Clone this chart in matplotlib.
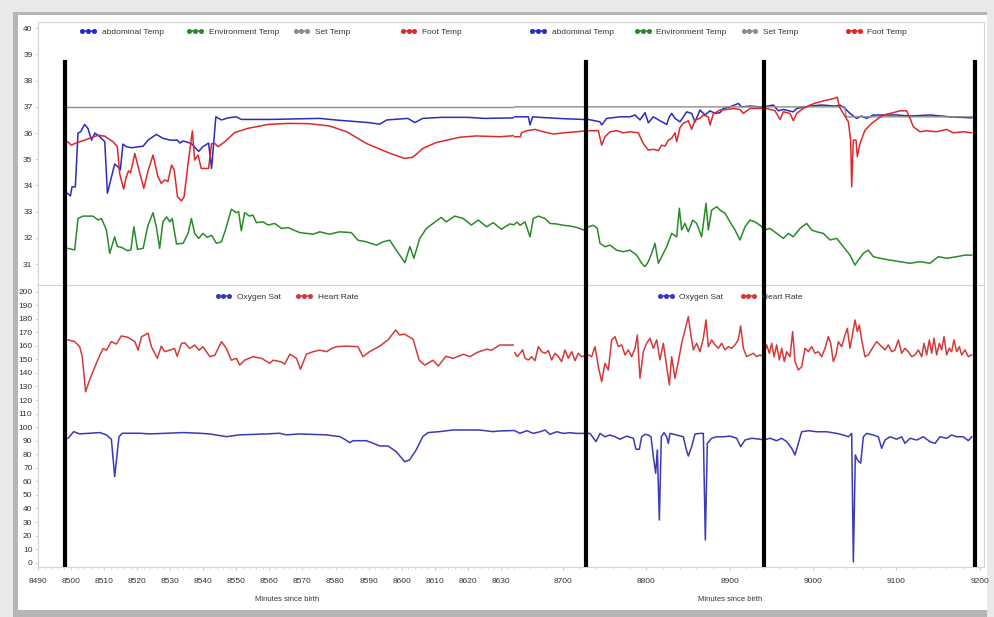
import numpy as np
import matplotlib
matplotlib.use("Agg")
import matplotlib.pyplot as plt
from matplotlib.lines import Line2D
from matplotlib.legend import Legend
from matplotlib.patches import Rectangle
from matplotlib.ticker import MultipleLocator

plt.rcParams["font.family"] = ["Liberation Sans", "DejaVu Sans"]

# ---------------- data: (minute, value) ----------------
# left recording, minutes 8490-8634
left_abd = np.array([
    (8498.9, 33.70), (8499.8, 33.60), (8500.3, 33.95), (8501.3, 33.95), (8502.1, 36.00),
    (8502.9, 36.05), (8504.1, 36.33), (8505.1, 36.18), (8506.2, 35.73), (8507.2, 36.00),
    (8508.7, 35.86), (8510.2, 35.67), (8511.0, 33.70), (8513.2, 34.82), (8514.2, 34.71),
    (8514.9, 34.59), (8515.7, 35.58), (8516.7, 35.48), (8518.3, 35.44), (8521.8, 35.50),
    (8523.3, 35.73), (8525.8, 35.95), (8527.8, 35.80), (8530.0, 35.73), (8532.2, 35.73),
    (8532.9, 35.62), (8533.9, 35.70), (8536.4, 35.60), (8538.6, 35.30), (8539.9, 35.48),
    (8541.6, 35.62), (8542.5, 34.65), (8543.0, 35.40), (8543.8, 36.62), (8545.5, 36.50),
    (8547.5, 36.58), (8550.0, 36.62), (8551.5, 36.52), (8560.0, 36.52), (8575.2, 36.56),
    (8580.0, 36.50), (8585.0, 36.45), (8590.0, 36.40), (8593.4, 36.34), (8595.5, 36.50),
    (8601.9, 36.56), (8604.0, 36.40), (8606.4, 36.56), (8612.0, 36.60), (8620.0, 36.60),
    (8625.0, 36.56), (8634.0, 36.58),
])
left_foot = np.array([
    (8498.9, 35.67), (8500.1, 35.54), (8501.5, 35.62), (8504.1, 35.73), (8506.2, 35.83),
    (8508.2, 35.92), (8510.2, 35.88), (8512.7, 35.67), (8514.0, 35.48), (8514.7, 34.46),
    (8515.9, 33.86), (8516.7, 34.33), (8517.4, 34.56), (8518.0, 34.48), (8519.3, 35.22),
    (8520.3, 34.71), (8522.0, 33.89), (8523.3, 34.56), (8524.8, 35.16), (8526.3, 34.33),
    (8527.3, 34.08), (8528.3, 34.21), (8529.3, 34.15), (8530.4, 34.78), (8531.2, 34.59),
    (8532.2, 33.57), (8533.4, 33.41), (8534.2, 33.57), (8535.4, 34.84), (8536.7, 36.08),
    (8537.4, 34.97), (8538.4, 35.16), (8539.4, 34.65), (8541.6, 34.65), (8542.5, 35.60),
    (8543.5, 35.60), (8544.5, 35.48), (8546.5, 35.67), (8549.5, 36.02), (8553.5, 36.18),
    (8559.6, 36.33), (8565.6, 36.37), (8572.0, 36.36), (8578.2, 36.27), (8583.4, 36.05),
    (8589.4, 35.60), (8596.4, 35.23), (8600.9, 35.03), (8603.4, 35.08), (8606.5, 35.42),
    (8610.5, 35.64), (8617.6, 35.84), (8622.6, 35.89), (8629.7, 35.86), (8634.0, 35.90),
])
left_env = np.array([
    (8498.9, 31.60), (8501.1, 31.54), (8502.1, 32.74), (8503.6, 32.83), (8506.6, 32.83),
    (8508.2, 32.68), (8509.2, 32.74), (8510.7, 32.30), (8511.7, 31.41), (8513.2, 32.04),
    (8514.0, 31.67), (8515.2, 31.64), (8517.1, 31.51), (8518.1, 31.54), (8519.0, 32.42),
    (8520.1, 31.56), (8521.8, 31.60), (8523.3, 32.49), (8524.8, 32.96), (8525.8, 32.42),
    (8526.8, 31.60), (8527.8, 32.61), (8528.9, 32.80), (8529.9, 32.61), (8530.6, 32.74),
    (8531.9, 31.77), (8533.9, 31.79), (8535.4, 32.17), (8536.4, 32.74), (8537.4, 32.17),
    (8538.6, 31.98), (8539.9, 32.17), (8541.2, 32.02), (8542.5, 32.10), (8544.0, 31.79),
    (8545.5, 31.85), (8546.7, 32.30), (8548.5, 33.09), (8550.0, 32.96), (8550.7, 33.00),
    (8551.5, 32.27), (8552.5, 32.96), (8554.0, 32.83), (8555.0, 32.87), (8556.1, 32.58),
    (8558.1, 32.61), (8559.6, 32.49), (8561.6, 32.55), (8563.7, 32.36), (8565.7, 32.39),
    (8569.2, 32.20), (8573.2, 32.14), (8575.2, 32.23), (8578.2, 32.14), (8581.2, 32.23),
    (8584.8, 32.20), (8586.8, 31.91), (8589.3, 31.85), (8592.4, 31.72), (8594.4, 31.85),
    (8596.4, 31.91), (8598.4, 31.53), (8601.0, 31.05), (8602.5, 31.67), (8603.7, 31.22),
    (8605.5, 31.98), (8607.5, 32.36), (8609.5, 32.55), (8612.0, 32.78), (8613.5, 32.61),
    (8616.1, 32.83), (8618.6, 32.74), (8621.1, 32.49), (8623.2, 32.68), (8625.7, 32.42),
    (8627.7, 32.58), (8630.2, 32.33), (8632.7, 32.53), (8634.0, 32.50),
])
left_set = np.array([(8498.5, 37.0), (8634.0, 37.0)])
left_hr = np.array([
    (8499.1, 164.4), (8501.1, 163.1), (8502.6, 159.4), (8503.4, 152.0), (8504.4, 126.1),
    (8505.6, 134.7), (8507.2, 144.5), (8508.7, 153.1), (8509.7, 158.0), (8510.7, 156.8),
    (8512.2, 163.1), (8513.7, 161.3), (8515.2, 167.3), (8517.2, 166.3), (8519.3, 163.1),
    (8520.3, 156.8), (8521.3, 166.7), (8523.3, 169.3), (8524.3, 159.4), (8526.1, 150.8),
    (8527.3, 159.8), (8528.3, 155.7), (8529.8, 156.8), (8531.3, 158.0), (8532.1, 152.3),
    (8533.4, 161.8), (8534.4, 162.3), (8535.9, 158.0), (8537.4, 160.6), (8538.7, 156.8),
    (8539.9, 159.4), (8542.0, 152.0), (8543.5, 153.1), (8545.5, 163.1), (8547.0, 158.0),
    (8548.5, 149.4), (8550.0, 150.8), (8551.0, 145.8), (8552.5, 149.4), (8555.0, 152.0),
    (8557.6, 150.8), (8560.1, 147.1), (8561.1, 149.4), (8563.6, 148.2), (8564.6, 146.5),
    (8566.2, 153.8), (8568.2, 150.8), (8569.4, 142.7), (8571.2, 153.8), (8573.2, 155.7),
    (8575.2, 156.8), (8577.3, 155.7), (8578.8, 158.0), (8580.3, 159.4), (8583.3, 159.8),
    (8586.8, 159.4), (8588.3, 152.0), (8590.3, 155.7), (8593.4, 159.8), (8595.9, 164.4),
    (8598.2, 171.7), (8599.4, 168.0), (8600.9, 168.7), (8603.5, 164.8), (8605.3, 149.4),
    (8607.0, 145.8), (8609.5, 149.4), (8611.1, 145.1), (8613.4, 152.3), (8615.6, 150.8),
    (8618.7, 153.8), (8620.7, 152.0), (8622.7, 155.0), (8625.7, 157.5), (8627.2, 156.8),
    (8629.7, 160.6), (8633.8, 160.6),
])
left_o2 = np.array([
    (8499.1, 91.8), (8500.8, 96.7), (8502.6, 95.0), (8505.6, 95.5), (8508.7, 96.0),
    (8510.7, 94.3), (8512.2, 91.0), (8513.2, 63.5), (8514.5, 93.0), (8515.5, 95.5),
    (8518.8, 95.5), (8520.8, 95.5), (8523.8, 95.0), (8528.9, 95.5), (8533.9, 96.0),
    (8538.9, 95.5), (8541.9, 95.0), (8547.0, 93.0), (8551.0, 94.3), (8559.1, 95.0),
    (8563.1, 95.5), (8565.1, 94.3), (8569.2, 95.0), (8577.2, 94.3), (8581.3, 93.0),
    (8582.8, 91.0), (8584.3, 88.6), (8585.3, 90.0), (8589.3, 90.0), (8591.4, 88.1),
    (8593.4, 86.1), (8595.9, 86.1), (8598.4, 81.9), (8600.9, 74.5), (8602.4, 75.8),
    (8604.4, 83.2), (8606.4, 93.0), (8608.0, 96.0), (8611.5, 96.7), (8615.5, 97.9),
    (8619.6, 97.9), (8623.6, 97.9), (8627.6, 96.7), (8629.7, 97.2), (8634.0, 97.5),
])

# right recording, minutes 8641-9205
right_abd = np.array([
    (8641.0, 36.62), (8655.0, 36.62), (8658.4, 36.62), (8660.4, 36.31), (8663.6, 36.62),
    (8672.4, 36.60), (8700.0, 36.55), (8724.4, 36.52), (8730.4, 36.52), (8744.4, 36.43),
    (8746.4, 36.31), (8752.4, 36.56), (8768.4, 36.62), (8780.4, 36.62), (8786.4, 36.69),
    (8792.4, 36.50), (8798.4, 36.78), (8802.4, 36.39), (8808.4, 36.62), (8816.4, 36.47),
    (8824.4, 36.33), (8827.6, 36.62), (8830.4, 36.75), (8834.4, 36.56), (8840.4, 36.43),
    (8844.4, 36.62), (8848.4, 36.81), (8854.4, 36.75), (8858.4, 36.43), (8864.4, 36.88),
    (8870.4, 36.69), (8876.4, 36.85), (8882.4, 36.75), (8888.4, 36.78), (8892.4, 36.94),
    (8900.4, 37.00), (8910.4, 37.13), (8914.4, 37.00), (8924.4, 37.03), (8936.4, 37.00),
    (8940.4, 37.00), (8952.4, 37.07), (8958.4, 36.85), (8964.4, 36.90), (8976.4, 36.81),
    (8980.4, 36.94), (8996.4, 37.03), (9010.4, 37.07), (9026.4, 37.03), (9032.4, 37.07),
    (9038.4, 36.94), (9044.4, 36.75), (9052.4, 36.56), (9058.4, 36.65), (9064.4, 36.56),
    (9072.4, 36.69), (9084.4, 36.69), (9100.4, 36.69), (9116.4, 36.65), (9140.4, 36.69),
    (9164.4, 36.62), (9190.4, 36.58),
])
right_foot = np.array([
    (8641.0, 35.86), (8649.0, 35.86), (8650.0, 36.01), (8656.4, 36.09), (8666.4, 36.14),
    (8676.4, 36.05), (8688.4, 35.96), (8700.4, 36.01), (8716.4, 36.05), (8728.4, 36.09),
    (8742.4, 36.09), (8746.4, 35.54), (8750.4, 35.86), (8756.4, 36.05), (8764.4, 36.09),
    (8772.4, 36.01), (8780.4, 36.05), (8790.4, 36.01), (8796.4, 35.60), (8802.4, 35.35),
    (8808.4, 35.38), (8814.4, 35.33), (8818.4, 35.54), (8822.4, 35.50), (8826.4, 35.73),
    (8830.4, 35.80), (8834.4, 36.01), (8836.4, 35.67), (8840.4, 36.21), (8844.4, 36.37),
    (8850.4, 36.47), (8854.4, 36.14), (8858.4, 36.50), (8864.4, 36.56), (8868.4, 36.69),
    (8874.4, 36.62), (8876.4, 36.31), (8880.4, 36.73), (8888.4, 36.88), (8896.4, 36.90),
    (8904.4, 36.94), (8912.4, 36.90), (8916.4, 36.75), (8924.4, 36.94), (8936.4, 36.94),
    (8944.4, 36.94), (8954.4, 36.85), (8960.4, 36.52), (8964.4, 36.81), (8972.4, 36.75),
    (8976.4, 36.47), (8980.4, 36.75), (8988.4, 36.94), (8996.4, 37.07), (9004.4, 37.16),
    (9016.4, 37.26), (9026.4, 37.33), (9029.2, 37.37), (9031.6, 37.00), (9036.4, 36.75),
    (9042.4, 36.43), (9045.2, 35.73), (9046.4, 33.95), (9048.4, 35.73), (9051.6, 35.73),
    (9053.2, 35.10), (9056.4, 35.60), (9062.4, 36.11), (9070.4, 36.37), (9078.4, 36.56),
    (9084.4, 36.69), (9096.4, 36.78), (9104.4, 36.85), (9112.4, 36.85), (9116.4, 36.56),
    (9120.4, 36.24), (9128.4, 36.05), (9136.4, 36.09), (9148.4, 36.05), (9160.4, 36.14),
    (9168.4, 36.01), (9180.4, 36.05), (9190.4, 36.01),
])
right_env = np.array([
    (8641.0, 32.50), (8645.0, 32.60), (8648.4, 32.48), (8654.4, 32.61), (8660.4, 32.04),
    (8664.4, 32.74), (8670.4, 32.83), (8678.4, 32.74), (8684.4, 32.55), (8692.4, 32.53),
    (8700.4, 32.48), (8708.4, 32.45), (8716.4, 32.40), (8724.4, 32.30), (8730.4, 32.42),
    (8736.4, 32.48), (8741.2, 32.36), (8744.4, 31.79), (8750.4, 31.66), (8756.4, 31.72),
    (8764.4, 31.53), (8772.4, 31.47), (8780.4, 31.53), (8788.4, 31.34), (8794.4, 31.03),
    (8798.4, 30.90), (8802.4, 31.09), (8806.4, 31.41), (8810.4, 31.79), (8814.4, 31.03),
    (8818.4, 31.28), (8824.4, 31.66), (8830.4, 32.17), (8836.4, 32.04), (8839.6, 33.13),
    (8842.4, 32.30), (8846.4, 32.55), (8850.4, 32.23), (8855.6, 32.68), (8860.4, 32.55),
    (8866.4, 32.04), (8871.6, 33.32), (8874.4, 32.30), (8878.4, 33.06), (8884.4, 33.19),
    (8888.4, 33.06), (8894.4, 32.94), (8900.4, 32.61), (8906.4, 32.30), (8912.4, 31.92),
    (8918.4, 32.42), (8924.4, 32.68), (8930.4, 32.61), (8936.4, 32.48), (8942.4, 32.30),
    (8948.4, 32.36), (8956.4, 32.17), (8964.4, 31.98), (8970.4, 32.17), (8976.4, 32.04),
    (8984.4, 32.36), (8992.4, 32.55), (8998.4, 32.30), (9004.4, 32.23), (9012.4, 32.17),
    (9020.4, 31.92), (9028.4, 31.98), (9036.4, 31.66), (9044.4, 31.34), (9050.4, 30.96),
    (9054.4, 31.15), (9060.4, 31.41), (9066.4, 31.53), (9072.4, 31.28), (9080.4, 31.22),
    (9092.4, 31.15), (9104.4, 31.09), (9116.4, 31.03), (9128.4, 31.09), (9140.4, 31.03),
    (9150.4, 31.28), (9160.4, 31.22), (9172.4, 31.28), (9182.4, 31.34), (9190.4, 31.34),
])
right_set = np.array([(8641.0, 37.0), (9038.0, 37.0), (9040.0, 36.62), (9195.0, 36.62)])
right_hr = np.array([
    (8642.0, 155.0), (8645.0, 152.0), (8648.4, 154.5), (8651.6, 157.0), (8654.4, 150.8),
    (8658.4, 149.6), (8662.4, 152.0), (8666.4, 149.1), (8670.4, 159.4), (8674.4, 155.7),
    (8678.4, 154.5), (8682.4, 156.5), (8686.4, 149.6), (8690.4, 154.5), (8694.4, 152.0),
    (8698.4, 148.4), (8702.4, 157.0), (8706.4, 150.8), (8710.4, 155.7), (8714.4, 149.1),
    (8718.4, 154.5), (8722.4, 152.0), (8730.4, 153.3), (8734.4, 152.0), (8738.4, 159.4),
    (8742.4, 144.6), (8746.4, 133.6), (8750.4, 147.1), (8754.4, 142.2), (8758.4, 164.4),
    (8762.4, 166.8), (8766.4, 159.4), (8770.4, 160.7), (8774.4, 153.3), (8778.4, 157.0),
    (8782.4, 152.0), (8786.4, 158.2), (8789.2, 168.0), (8792.4, 136.1), (8796.4, 155.7),
    (8800.4, 161.9), (8804.4, 165.6), (8808.4, 158.2), (8812.4, 164.4), (8816.4, 149.6),
    (8820.4, 161.9), (8824.4, 144.6), (8827.6, 131.1), (8830.4, 152.0), (8834.4, 136.1),
    (8838.4, 148.4), (8842.4, 161.9), (8846.4, 171.7), (8850.4, 181.6), (8853.2, 169.3),
    (8856.4, 157.0), (8860.4, 161.9), (8864.4, 155.7), (8868.4, 165.6), (8871.6, 179.1),
    (8874.4, 159.4), (8878.4, 164.4), (8882.4, 160.7), (8886.4, 158.2), (8890.4, 161.9),
    (8894.4, 157.0), (8898.4, 159.4), (8902.4, 158.2), (8906.4, 160.7), (8910.4, 164.4),
    (8913.2, 174.7), (8916.4, 158.2), (8920.4, 152.0), (8924.4, 153.3), (8928.4, 154.5),
    (8932.4, 152.0), (8936.4, 153.3), (8940.4, 152.0), (8944.4, 160.7), (8947.6, 154.5),
    (8950.4, 161.9), (8953.2, 152.0), (8956.4, 160.7), (8959.6, 149.6), (8962.4, 158.2),
    (8965.6, 148.4), (8968.4, 155.7), (8972.4, 152.0), (8975.6, 170.5), (8978.4, 148.4),
    (8982.4, 142.2), (8986.4, 144.6), (8990.4, 158.2), (8994.4, 155.7), (8998.4, 159.4),
    (9002.4, 154.5), (9006.4, 155.7), (9010.4, 152.0), (9014.4, 158.2), (9018.4, 166.8),
    (9021.2, 161.9), (9024.4, 148.4), (9027.6, 153.3), (9030.4, 163.1), (9034.4, 159.4),
    (9038.4, 168.0), (9041.2, 172.9), (9044.4, 158.2), (9047.6, 169.3), (9050.4, 179.1),
    (9053.2, 170.5), (9055.6, 175.4), (9058.4, 164.4), (9062.4, 152.0), (9066.4, 153.3),
    (9072.4, 159.4), (9076.4, 163.1), (9082.4, 159.4), (9086.4, 157.0), (9090.4, 160.7),
    (9094.4, 155.7), (9098.4, 157.0), (9102.4, 164.4), (9106.4, 154.5), (9110.4, 158.2),
    (9114.4, 155.7), (9118.4, 152.0), (9122.4, 153.3), (9126.4, 157.0), (9130.4, 152.0),
    (9133.2, 161.9), (9136.4, 153.3), (9139.6, 164.4), (9142.4, 154.5), (9145.2, 165.6),
    (9148.4, 153.3), (9151.6, 161.9), (9154.4, 157.0), (9157.2, 166.8), (9160.4, 153.3),
    (9163.6, 158.2), (9166.4, 155.7), (9169.2, 164.4), (9172.4, 155.7), (9175.6, 159.4),
    (9178.4, 153.3), (9182.4, 157.0), (9186.4, 152.0), (9190.4, 153.3),
])
right_o2 = np.array([
    (8642.0, 97.4), (8648.4, 95.4), (8656.4, 97.4), (8664.4, 95.4), (8672.4, 96.6),
    (8678.4, 97.9), (8684.4, 94.7), (8692.4, 96.6), (8700.4, 95.4), (8708.4, 95.9),
    (8716.4, 95.4), (8724.4, 95.4), (8732.4, 95.4), (8739.6, 89.3), (8744.4, 95.4),
    (8750.4, 92.9), (8756.4, 94.2), (8762.4, 92.9), (8768.4, 91.1), (8776.4, 93.4),
    (8784.4, 91.8), (8787.6, 83.7), (8791.6, 83.7), (8794.4, 92.9), (8798.4, 94.7),
    (8802.4, 94.2), (8805.6, 92.9), (8808.4, 78.2), (8811.2, 66.0), (8813.2, 83.2),
    (8815.6, 31.5), (8818.0, 92.9), (8821.2, 95.9), (8824.4, 92.9), (8826.4, 88.0),
    (8828.4, 95.4), (8836.4, 94.2), (8844.4, 92.9), (8847.6, 84.4), (8850.4, 78.7),
    (8854.4, 85.6), (8858.4, 94.9), (8864.4, 95.4), (8868.4, 95.4), (8870.8, 16.7),
    (8873.2, 88.0), (8878.4, 91.8), (8884.4, 92.9), (8892.4, 92.9), (8900.4, 93.4),
    (8908.4, 91.8), (8913.2, 85.6), (8918.4, 90.5), (8926.4, 91.8), (8936.4, 91.1),
    (8940.4, 90.5), (8948.4, 91.8), (8956.4, 90.0), (8962.4, 91.8), (8968.4, 89.3),
    (8974.4, 84.4), (8978.4, 79.5), (8982.4, 88.0), (8986.4, 96.6), (8994.4, 97.4),
    (9004.4, 96.6), (9016.4, 96.6), (9028.4, 95.4), (9036.4, 94.2), (9042.4, 92.9),
    (9046.4, 95.4), (9048.4, 0.5), (9050.8, 79.5), (9053.2, 75.8), (9057.2, 73.4),
    (9060.4, 92.9), (9064.4, 95.4), (9072.4, 94.2), (9078.4, 92.9), (9082.4, 84.4),
    (9086.4, 90.5), (9092.4, 92.9), (9100.4, 91.1), (9106.4, 92.9), (9110.4, 88.0),
    (9116.4, 91.8), (9124.4, 90.5), (9132.4, 92.9), (9140.4, 89.3), (9146.4, 88.0),
    (9152.4, 92.9), (9160.4, 91.8), (9166.4, 94.2), (9172.4, 92.9), (9180.4, 92.9),
    (9186.4, 90.0), (9190.4, 92.9),
])

# black event markers (minutes)
left_events = [8498.1]
right_events = [8727.6, 8941.2, 9194.4]

left_xticks = list(range(8490, 8631, 10))
right_xticks = list(range(8700, 9201, 100))
temp_yticks = list(range(31, 41))
vital_yticks = list(range(0, 201, 10))

temp_labels = ["abdominal Temp", "Environment Temp", "Set Temp", "Foot Temp"]
vital_labels = ["Oxygen Sat", "Heart Rate"]

BLUE = "#2b2bbd"
RED = "#dc2a2a"
GREEN = "#2a8a2a"
GRAY = "#8c8c8c"
HR_RED = "#d43a3a"
O2_BLUE = "#3a3ab8"
SPINE = "#d4d4d4"
TXT = "#333333"

W, H = 995, 617


def box(x0, y0, x1, y1):
    # pixel box (top-left origin) -> figure fraction rect
    return [x0 / W, 1 - y1 / H, (x1 - x0) / W, (y1 - y0) / H]


def legend_row(ax, labels, colors, xs, y):
    for label, color, x in zip(labels, colors, xs):
        h = Line2D([], [], color=color, marker="o", markersize=2.6, lw=1.1)
        lg = Legend(ax, [h], [label], loc="center left", bbox_to_anchor=(x, y),
                    frameon=False, numpoints=3, handlelength=2.0, handletextpad=0.6,
                    fontsize=6, borderpad=0, borderaxespad=0, labelcolor=TXT)
        ax.add_artist(lg)


def style(ax, side):
    for s in ax.spines.values():
        s.set_color(SPINE)
        s.set_linewidth(0.8)
    if side == "left":
        ax.spines["right"].set_visible(False)
    else:
        ax.spines["left"].set_visible(False)
        ax.tick_params(axis="y", which="both", left=False, labelleft=False)
    ax.tick_params(which="both", colors=SPINE, labelcolor=TXT, labelsize=6)
    ax.tick_params(axis="y", which="major", length=2, pad=2)
    ax.tick_params(axis="y", which="minor", length=1)


fig = plt.figure(figsize=(W / 100, H / 100), dpi=100)
fig.set_facecolor("#e9e9e9")
# screenshot-style frame: darker band on top, left and bottom, light on the right
fig.add_artist(Rectangle((13 / W, 1 - 617 / H), 974 / W, 605 / H,
                         transform=fig.transFigure, fc="#b6b6b6", ec="none", zorder=-20))
fig.add_artist(Rectangle((18 / W, 1 - 610 / H), 969 / W, 595 / H,
                         transform=fig.transFigure, fc="white", ec="none", zorder=-10))

ax_lt = fig.add_axes(box(38, 22, 514, 285))
ax_lb = fig.add_axes(box(38, 285, 514, 567))
ax_rt = fig.add_axes(box(514, 22, 984, 285))
ax_rb = fig.add_axes(box(514, 285, 984, 567))

temp_sets = [
    (ax_lt, left_abd, left_env, left_set, left_foot, left_events, "left"),
    (ax_rt, right_abd, right_env, right_set, right_foot, right_events, "right"),
]
for ax, abd, env, setp, foot, events, side in temp_sets:
    ax.plot(abd[:, 0], abd[:, 1], color=BLUE, lw=1.1)
    ax.plot(env[:, 0], env[:, 1], color=GREEN, lw=1.1)
    ax.plot(setp[:, 0], setp[:, 1], color=GRAY, lw=1.0)
    ax.plot(foot[:, 0], foot[:, 1], color=RED, lw=1.1)
    for x in events:
        ax.axvline(x, ymin=0, ymax=0.848, color="black", lw=3.0, zorder=5)
    ax.set_ylim(30.2, 40.24)
    ax.set_yticks(temp_yticks)
    ax.yaxis.set_minor_locator(MultipleLocator(0.25))
    ax.tick_params(axis="x", which="both", bottom=False, labelbottom=False)
    style(ax, side)

vital_sets = [
    (ax_lb, left_o2, left_hr, left_events, "left"),
    (ax_rb, right_o2, right_hr, right_events, "right"),
]
for ax, o2, hr, events, side in vital_sets:
    ax.plot(hr[:, 0], hr[:, 1], color=HR_RED, lw=1.1)
    ax.plot(o2[:, 0], o2[:, 1], color=O2_BLUE, lw=1.1)
    for x in events:
        ax.axvline(x, color="black", lw=3.0, zorder=5)
    ax.set_ylim(-3.2, 204.9)
    ax.set_yticks(vital_yticks)
    ax.yaxis.set_minor_locator(MultipleLocator(5))
    ax.set_xlabel("Minutes since birth", fontsize=5.5, color=TXT)
    style(ax, side)
    ax.tick_params(axis="x", which="major", length=2, pad=6)
    ax.tick_params(axis="x", which="minor", length=1.5)

ax_lt.set_xlim(8490, 8634)
ax_lb.set_xlim(8490, 8634)
ax_rt.set_xlim(8641.2, 9205.2)
ax_rb.set_xlim(8641.2, 9205.2)

ax_lb.set_xticks(left_xticks)
ax_lb.xaxis.set_minor_locator(MultipleLocator(2))
ax_rb.set_xticks(right_xticks)
ax_rb.xaxis.set_minor_locator(MultipleLocator(20))

ax_lb.xaxis.set_label_coords(0.523, -0.103)
ax_rb.xaxis.set_label_coords(0.46, -0.103)

temp_colors = [BLUE, GREEN, GRAY, RED]
legend_row(ax_lt, temp_labels, temp_colors, [0.088, 0.313, 0.536, 0.761], 0.962)
legend_row(ax_rt, temp_labels, temp_colors, [0.034, 0.257, 0.483, 0.706], 0.962)
legend_row(ax_lb, vital_labels, [O2_BLUE, HR_RED], [0.372, 0.542], 0.957)
legend_row(ax_rb, vital_labels, [O2_BLUE, HR_RED], [0.306, 0.481], 0.957)

fig.savefig("out.png", dpi=100, facecolor=fig.get_facecolor())
